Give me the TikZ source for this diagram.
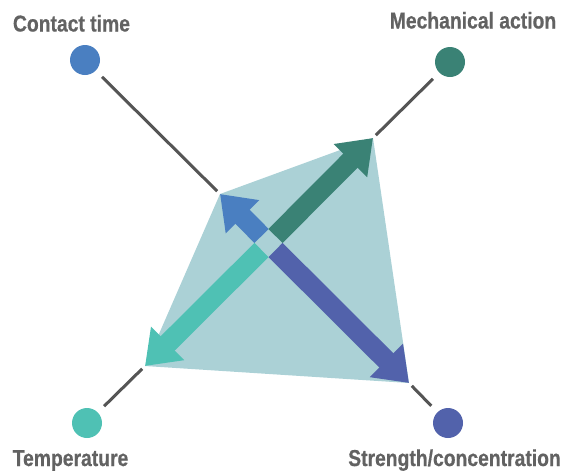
\documentclass[tikz,border=0pt]{standalone}
\usepackage{fontspec}
\newfontfamily\labfont{Liberation Sans}[FakeStretch=0.84,BoldFeatures={FakeBold=0.6}]
\usetikzlibrary{arrows.meta,calc}
\definecolor{cblue}{HTML}{4A7FC1}
\definecolor{cgreen}{HTML}{3A8275}
\definecolor{cteal}{HTML}{4FC1B4}
\definecolor{cpurple}{HTML}{5262AB}
\definecolor{cfill}{HTML}{ABD1D6}
\definecolor{cline}{HTML}{555555}
\definecolor{ctext}{HTML}{626262}
\tikzset{
  dot/.style={circle,inner sep=0pt,outer sep=0pt,minimum size=30pt,fill=#1},
  lab/.style={anchor=base,text=ctext,font=\labfont\bfseries\fontsize{23pt}{27pt}\selectfont,inner sep=0pt},
  conn/.style={draw=cline,line width=3pt,shorten <=9pt,shorten >=4pt},
  bigarrow/.style={draw=#1,line width=20pt,-{Triangle[length=32pt,width=45pt]}}
}
\begin{document}
\begin{tikzpicture}[x=1pt,y=-1pt]
\useasboundingbox (0,0) rectangle (577,472);
% polygon vertices
\coordinate (vtl) at (220,194);
\coordinate (vtr) at (373,138);
\coordinate (vbr) at (409,383);
\coordinate (vbl) at (145,366);
\coordinate (ctr) at (268.5,243);
\fill[cfill] (vtl) -- (vtr) -- (vbr) -- (vbl) -- cycle;
% circles
\node[dot=cblue] (ct) at (85,60) {};
\node[dot=cgreen] (ma) at (450,62) {};
\node[dot=cteal] (te) at (87,423) {};
\node[dot=cpurple] (sc) at (448,423) {};
% labels
\node[lab] (lct) at (71.5,31.5) {Contact time};
\node[lab] (lma) at (473,28.5) {Mechanical action};
\node[lab] (lte) at (70.5,466) {Temperature};
\node[lab] (lsc) at (454.5,466) {Strength/concentration};
% connectors
\draw[conn] (ct) -- (vtl);
\draw[conn] (ma) -- (vtr);
\draw[conn] (te) -- (vbl);
\draw[conn] (sc) -- (vbr);
% arrows
\coordinate (sg) at ($(ctr)!9.9pt!(vtr)$);
\coordinate (sb) at ($(ctr)!9.9pt!(vtl)$);
\coordinate (st) at ($(ctr)!9.9pt!(vbl)$);
\coordinate (sp) at ($(ctr)!9.9pt!(vbr)$);
\draw[bigarrow=cgreen] (sg) -- (vtr);
\draw[bigarrow=cblue] (sb) -- (vtl);
\draw[bigarrow=cteal] (st) -- (vbl);
\draw[bigarrow=cpurple] (sp) -- (vbr);
\end{tikzpicture}
\end{document}
